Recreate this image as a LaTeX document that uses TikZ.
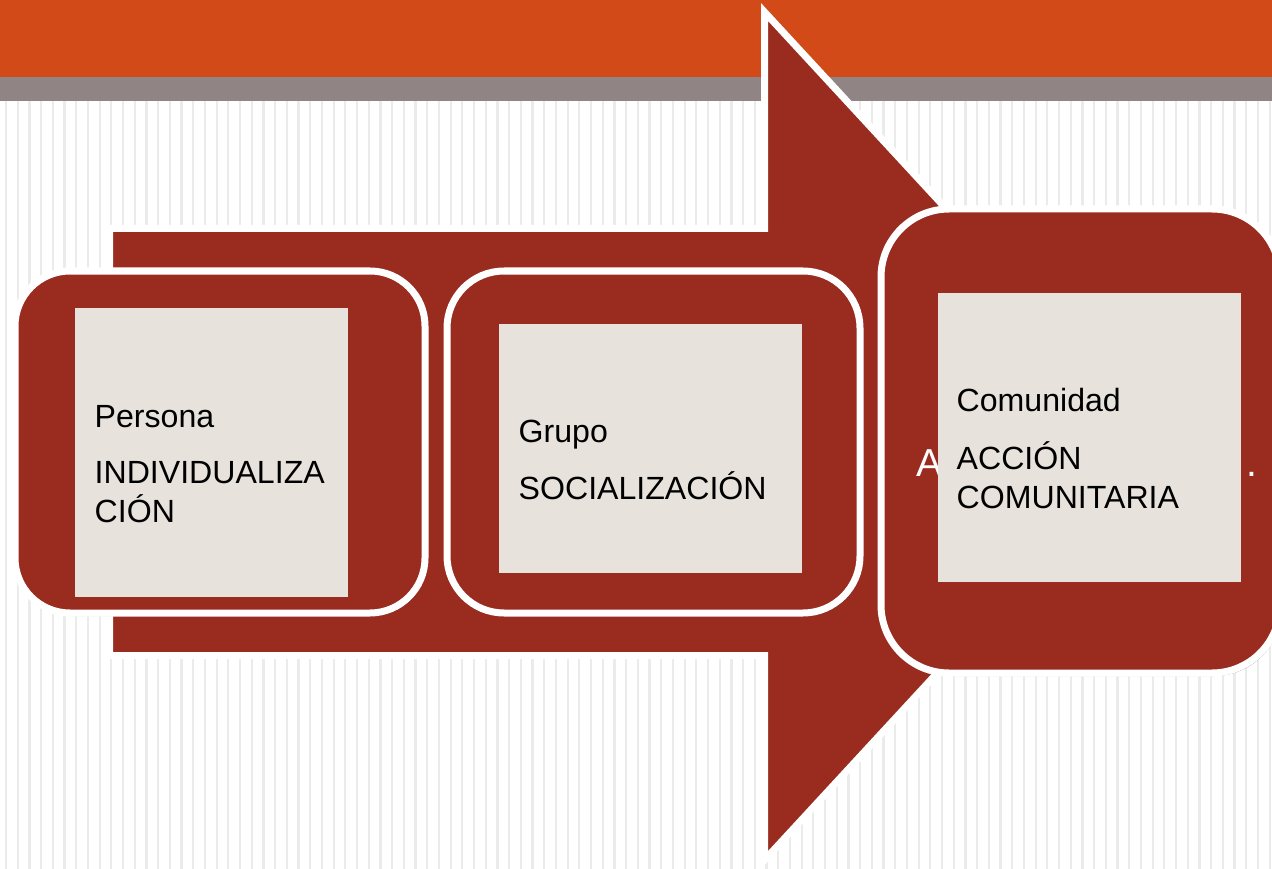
\documentclass[tikz,border=0pt]{standalone}
\usepackage{fontspec}
\setmainfont{Liberation Sans}
\usetikzlibrary{shadows}
\definecolor{hdrorange}{HTML}{D24A18}
\definecolor{hdrgray}{HTML}{908584}
\definecolor{arrowred}{HTML}{992B1F}
\definecolor{beige}{HTML}{E7E3DC}
\definecolor{stripegray}{HTML}{EBEBEB}
\tikzset{
  stripe/.style={draw=stripegray, line width=2.2pt},
  bigarrow/.style={fill=arrowred, draw=white, line width=7pt, line join=miter,
    drop shadow={shadow xshift=1pt, shadow yshift=-2pt, opacity=0.35, fill=black}},
  stagebox/.style={fill=arrowred, draw=white, line width=7pt,
    drop shadow={shadow xshift=2pt, shadow yshift=-3pt, opacity=0.5, fill=black}},
  panel/.style={fill=beige, draw=none, inner sep=0pt},
  label/.style={inner sep=0pt, anchor=base west, text=black,
    font=\fontsize{32.1}{39.5}\selectfont},
  ghost/.style={inner sep=0pt, anchor=base west, text=white,
    font=\fontsize{39}{46}\selectfont}
}
\begin{document}
\begin{tikzpicture}[x=1pt,y=-1pt]
\useasboundingbox (0,0) rectangle (1272,869);
\clip (0,0) rectangle (1272,869);
% background
\fill[white] (0,0) rectangle (1272,869);
\foreach \i in {0,...,108} \draw[stripe] ({6+\i*11.7},101) -- ++(0,768);
\fill[hdrorange] (0,0) rectangle (1272,77);
\fill[hdrgray] (0,77) rectangle (1272,101);
% big arrow
\draw[bigarrow] (109.5,228.5) -- (764.5,228.5) -- (764.5,12) -- (1156,436)
  -- (764.5,860) -- (764.5,655.5) -- (109.5,655.5) -- cycle;
% stage boxes
\draw[stagebox, rounded corners=55pt] (15,271) rectangle (425,613);
\draw[stagebox, rounded corners=57pt] (447,271) rectangle (860,613);
\draw[stagebox, rounded corners=68pt] (881,209) rectangle (1280,673);
% partly hidden white text behind the third panel
\node[ghost] (gA) at (916,476) {A};
\node[ghost] (gdot) at (1246,476) {.};
% panels
\node[panel, minimum width=273pt, minimum height=289pt, anchor=north west] (p1) at (75,308) {};
\node[panel, minimum width=303pt, minimum height=249pt, anchor=north west] (p2) at (499,324) {};
\node[panel, minimum width=303pt, minimum height=289pt, anchor=north west] (p3) at (938,293) {};
% texts
\node[label] (t1a) at (94.5,427) {Persona};
\node[label] (t1b) at (94.5,483) {INDIVIDUALIZA};
\node[label] (t1c) at (94.5,522.5) {CIÓN};
\node[label] (t2a) at (518.5,442) {Grupo};
\node[label] (t2b) at (518.5,499) {SOCIALIZACIÓN};
\node[label] (t3a) at (956.5,411.5) {Comunidad};
\node[label] (t3b) at (956.5,469) {ACCIÓN};
\node[label] (t3c) at (956.5,508) {COMUNITARIA};
\end{tikzpicture}
\end{document}
